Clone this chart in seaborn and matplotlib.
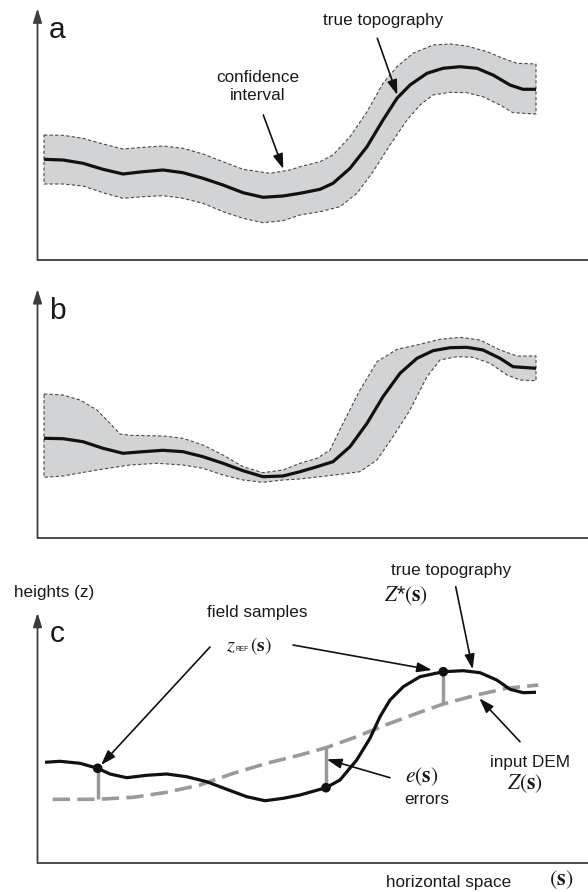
import numpy as np
import matplotlib
matplotlib.use("Agg")
import matplotlib.pyplot as plt
import seaborn as sns

# ---------------- data (horizontal position, height) ----------------
# Panel a: true topography with a constant-width confidence interval
a_x = [7, 26, 46, 66, 86, 106, 126, 146, 166, 186, 206, 226, 246, 263, 283, 296,
       313, 330, 346, 360, 373, 390, 406, 423, 440, 456, 473, 486, 499]
a_z = [100.7, 100, 96.7, 90.7, 86, 88.3, 90, 87.3, 81.7, 75, 67.3, 62.7, 64, 66.7,
       70.7, 76.7, 91.7, 113.3, 140, 161.7, 175, 186.7, 191.7, 193.3, 191.7, 185,
       175, 170.7, 170.7]
a_up_x = [7, 26, 46, 66, 86, 106, 126, 146, 166, 186, 206, 233, 253, 263, 283, 296,
          313, 330, 346, 360, 376, 396, 413, 430, 450, 466, 480, 499]
a_up_z = [125, 124.7, 121.7, 116, 111, 112.7, 114, 111.7, 106, 98.3, 90.7, 86.7, 90,
          93.3, 98.3, 105, 123.3, 148.3, 176.7, 193.3, 206.7, 215, 216, 214, 208.3,
          201.7, 196.7, 196]
a_lo_x = [7, 26, 46, 66, 86, 106, 126, 146, 166, 186, 206, 226, 246, 263, 283, 303,
          320, 336, 353, 370, 383, 396, 413, 430, 446, 463, 476, 499]
a_lo_z = [76, 76, 74, 67.3, 61.7, 63.3, 64.3, 61.7, 56.7, 48.3, 41.7, 37.3, 39.3, 45,
          48.3, 53.3, 66.7, 88.3, 115, 140, 155, 165, 167.7, 167.3, 163.3, 155, 147.3,
          146]

# Panel b: same topography, variable-width confidence interval
b_x = [7, 26, 46, 66, 86, 106, 126, 146, 166, 186, 206, 226, 246, 263, 280, 296,
       313, 330, 346, 363, 380, 396, 413, 430, 446, 463, 476, 499]
b_z = [99.7, 99.3, 96.3, 89.7, 84.7, 86.3, 87.7, 86.3, 81.3, 74.7, 67.3, 61.3, 62,
       66.3, 71.3, 76.3, 91.3, 114.7, 141.3, 164.7, 179.7, 187.3, 190.3, 190.7, 188,
       179.7, 171.3, 169.7]
b_up_x = [7, 26, 43, 60, 73, 83, 93, 126, 146, 166, 186, 206, 226, 246, 263, 280,
          293, 306, 323, 340, 360, 380, 403, 423, 443, 463, 480, 499]
b_up_z = [144, 143, 138, 128, 114.7, 104, 102.7, 102, 99.7, 93, 83, 71.3, 65.3, 68,
          74.7, 79.7, 88, 114.7, 148, 176.3, 188.7, 193, 198.7, 200.7, 198, 188, 182,
          182]
b_lo_x = [7, 26, 60, 93, 120, 146, 166, 186, 206, 226, 246, 263, 283, 303, 323, 340,
          356, 373, 390, 403, 420, 436, 453, 470, 483, 499]
b_lo_z = [60.7, 62, 68, 73, 74.7, 73, 69.7, 63, 58, 55.7, 58, 59, 61.3, 63.7, 66.3,
          78, 101.3, 128, 161.3, 178, 181.3, 180.7, 174.7, 163, 158, 157.3]

# Panel c: true topography Z*(s), input DEM Z(s) and field samples z_REF(s)
c_x = [8, 23, 43, 60.7, 73, 89.7, 109.7, 129.7, 149.7, 169.7, 189.7, 209.7, 228,
       246.3, 263, 289, 303, 319.7, 333, 343, 353, 366.3, 383, 406.3, 426.3, 443,
       459.7, 473, 486.3, 499]
c_true = [100.7, 101.7, 99.7, 94.7, 89, 85.3, 87.7, 89, 86.3, 81.3, 73.7, 66.3, 62.3,
          64.7, 68, 75.3, 83, 103, 124.7, 146.3, 163, 176.3, 186.3, 191.3, 192.3,
          190.3, 183, 173.7, 170.3, 170.7]
dem_x = [15.7, 60.7, 96.3, 129.7, 163, 196.3, 229.7, 263, 289, 319.7, 353, 386.3,
         406.3, 439.7, 469.7, 501.3]
dem_z = [63.7, 63.7, 65.7, 70.7, 78, 89.7, 99.7, 108, 115.3, 126.3, 139.7, 152, 159,
         168, 174.7, 178]
sample_x = [60.7, 289, 406.3]
sample_true = [94.7, 75.3, 191.3]
sample_dem = [63.7, 115.3, 159]

# ---------------- style ----------------
sns.set_theme(style="white")
plt.rcParams["font.family"] = ["Liberation Sans", "DejaVu Sans"]
plt.rcParams["mathtext.fontset"] = "stix"
plt.rcParams["lines.solid_joinstyle"] = "round"
plt.rcParams["lines.solid_capstyle"] = "butt"

W, H = 588, 892
fig = plt.figure(figsize=(W / 100, H / 100), dpi=100)


def fx(x):
    return x / W


def fy(y):
    return 1 - y / H


AX_LEFT = 37.5
AXIS_COL = "#3d3d3d"
FILL_COL = "#d1d3d4"
EDGE_COL = "#4a4a4a"
LINE_COL = "#111111"


def make_axes(top, bottom):
    ax = fig.add_axes([fx(AX_LEFT), fy(bottom), (W - AX_LEFT) / W, (bottom - top) / H])
    ax.set_xlim(AX_LEFT - 37, W - 37)
    ax.set_ylim(0, bottom - top)
    for s in ["top", "right", "left"]:
        ax.spines[s].set_visible(False)
    ax.spines["bottom"].set_color(AXIS_COL)
    ax.spines["bottom"].set_linewidth(1.3)
    ax.set_xticks([])
    ax.set_yticks([])
    ax.set_facecolor("none")
    ax.annotate("", xy=(0, 1), xytext=(0, 0), xycoords="axes fraction",
                textcoords="axes fraction",
                arrowprops=dict(arrowstyle="-|>,head_length=0.7,head_width=0.22",
                                color=AXIS_COL, lw=1.3, shrinkA=0, shrinkB=0))
    return ax


def band(ax, ux, uz, lx, lz, x, z):
    px = list(ux) + list(lx[::-1])
    pz = list(uz) + list(lz[::-1])
    ax.fill(px, pz, facecolor=FILL_COL, edgecolor=EDGE_COL, lw=0.8,
            linestyle=(0, (3, 2)), zorder=1)
    sns.lineplot(x=x, y=z, ax=ax, color=LINE_COL, lw=2.3, sort=False,
                 estimator=None, zorder=3)


def arrow(x0, y0, x1, y1, hl=0.9, hw=0.3):
    fig.add_artist(matplotlib.patches.FancyArrowPatch(
        (fx(x0), fy(y0)), (fx(x1), fy(y1)), transform=fig.transFigure,
        arrowstyle=f"-|>,head_length={hl},head_width={hw}", mutation_scale=10,
        color=LINE_COL, lw=1.2, shrinkA=0, shrinkB=0))


def label(x, y, s, size=12.3, ha="center", va="center", **kw):
    fig.text(fx(x), fy(y), s, fontsize=size, ha=ha, va=va,
             color="#1a1a1a", **kw)


# ---------------- panel a ----------------
ax_a = make_axes(8.3, 260)
band(ax_a, a_up_x, a_up_z, a_lo_x, a_lo_z, a_x, a_z)
label(57.5, 30, "a", size=21.5)
label(383, 20, "true topography")
label(257.5, 77, "confidence")
label(257.5, 95, "interval")
arrow(263.3, 115, 283.3, 169)
arrow(377.3, 38.3, 397.3, 95)

# ---------------- panel b ----------------
ax_b = make_axes(289, 538)
band(ax_b, b_up_x, b_up_z, b_lo_x, b_lo_z, b_x, b_z)
label(57.5, 311, "b", size=21.5)

# ---------------- panel c ----------------
ax_c = make_axes(612.7, 863)
sns.lineplot(x=dem_x, y=dem_z, ax=ax_c, color="#9a9a9a", lw=2.6, sort=False,
             estimator=None, linestyle=(0, (4.8, 2.0)), zorder=1)
ax_c.vlines(sample_x, sample_dem, sample_true, color="#999999", lw=2.5, zorder=2)
sns.lineplot(x=c_x, y=c_true, ax=ax_c, color=LINE_COL, lw=2.3, sort=False,
             estimator=None, zorder=3)
sns.scatterplot(x=sample_x, y=sample_true, ax=ax_c, color=LINE_COL, s=48,
                edgecolor="none", zorder=4)

label(57.5, 634, "c", size=21.5)
label(53.7, 592.7, "heights (z)")
label(257.5, 613, "field samples")
# z_REF(s): italic z, tiny sans small-caps REF, bold s in parentheses
label(226.5, 651, r"$z$", size=14.5, ha="left", va="baseline")
label(235, 651, "REF", size=4.8, ha="left", va="baseline")
label(250, 651, r"$(\mathbf{s})$", size=14, ha="left", va="baseline")
label(451, 570, "true topography")
label(406, 596, r"$Z$*$(\mathbf{s})$", size=15.5)
label(529.7, 762.3, "input DEM")
label(525, 783.3, r"$Z(\mathbf{s})$", size=15.5)
label(422, 776.7, r"$e(\mathbf{s})$", size=15.5)
label(427, 800, "errors")
label(449, 883, "horizontal space")
label(561, 880, r"$(\mathbf{s})$", size=16)

arrow(210, 647, 101, 765)
arrow(293, 645, 432, 670)
arrow(455.7, 586.7, 472.7, 669.3)
arrow(520, 741.7, 479.3, 698.3)
arrow(390, 777.7, 326.7, 759.3)

fig.savefig("out.png", dpi=100)
